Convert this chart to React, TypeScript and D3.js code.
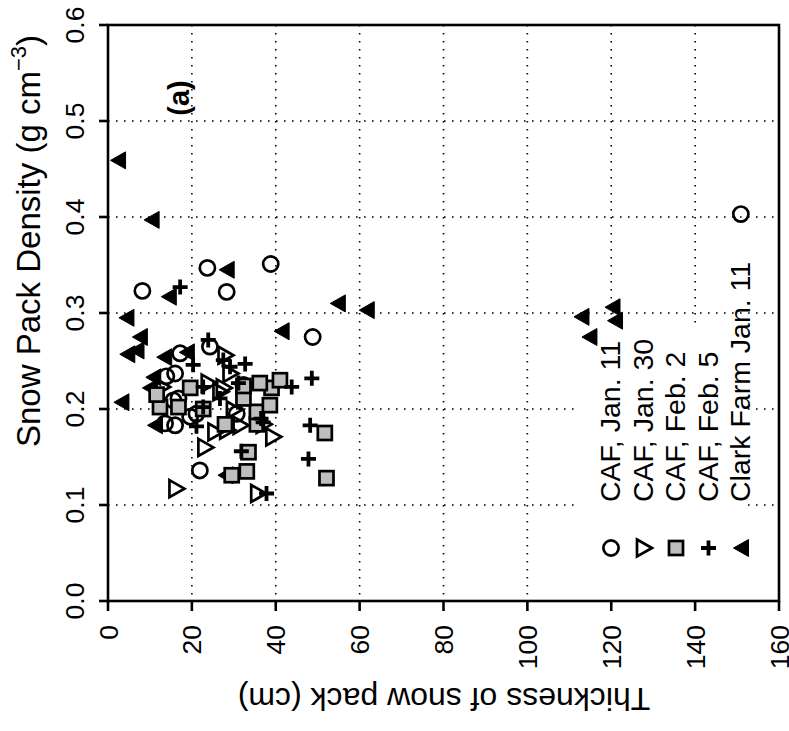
import React from "react";
import * as d3 from "d3";

// thickness (cm), density (g cm^-3)
const cafJan11: [number, number][] = [
  [8.2, 0.323], [23.7, 0.347], [28.3, 0.322], [38.8, 0.351], [48.8, 0.275],
  [150.9, 0.403], [17.2, 0.258], [16, 0.237], [13.9, 0.234], [13.6, 0.185],
  [16, 0.183], [21.9, 0.136], [24.3, 0.265], [21.1, 0.195], [16.8, 0.211],
  [32.3, 0.225], [30.7, 0.195], [19.6, 0.192], [15.6, 0.209],
];
const cafJan30: [number, number][] = [
  [16.2, 0.117], [35.7, 0.112], [39.3, 0.171], [23.1, 0.16], [23.9, 0.227],
  [27.9, 0.256], [29.1, 0.237], [28.3, 0.178], [25.5, 0.176], [31.5, 0.183],
  [12.8, 0.223], [26.7, 0.218], [29.9, 0.199], [37, 0.184], [27.5, 0.222],
];
const cafFeb2: [number, number][] = [
  [51.7, 0.175], [52.1, 0.128], [33.5, 0.155], [33.1, 0.135], [29.5, 0.131],
  [27.9, 0.184], [35.5, 0.184], [35.5, 0.197], [38.6, 0.204], [39, 0.222],
  [41, 0.23], [36.2, 0.227], [32.3, 0.211], [32.3, 0.224], [22.7, 0.2],
  [19.6, 0.222], [16.8, 0.202], [12.4, 0.202], [11.6, 0.215],
];
const cafFeb5: [number, number][] = [
  [17.2, 0.327], [48.6, 0.232], [47.8, 0.148], [48.2, 0.183], [37.8, 0.112],
  [31.8, 0.156], [32.7, 0.247], [43.8, 0.223], [23.9, 0.272], [20.3, 0.246],
  [29.1, 0.244], [27.5, 0.251], [26.7, 0.211], [21.1, 0.182], [22.7, 0.202],
  [37, 0.186], [22.7, 0.223], [31.1, 0.227], [36.5, 0.19],
];
const clarkJan11: [number, number][] = [
  [2.4, 0.459], [10.4, 0.397], [28.3, 0.345], [14.5, 0.317], [4.4, 0.295],
  [7.6, 0.275], [54.8, 0.31], [61.7, 0.303], [41.4, 0.281], [4.6, 0.257],
  [6.8, 0.261], [13.4, 0.254], [18.8, 0.259], [10.8, 0.233], [10, 0.222],
  [3.2, 0.207], [11.2, 0.183], [28, 0.131], [112.9, 0.296], [114.8, 0.275],
  [120.3, 0.306], [120.9, 0.292],
];

const legendLabels = ["CAF, Jan. 11", "CAF, Jan. 30", "CAF, Feb. 2", "CAF, Feb. 5", "Clark Farm Jan. 11"];
const xTicks = [0, 20, 40, 60, 80, 100, 120, 140, 160];
const yTicks = [0, 0.1, 0.2, 0.3, 0.4, 0.5, 0.6];

const FONT = "'Liberation Sans', Arial, Helvetica, sans-serif";

const left = 108, right = 779, top = 25, bottom = 601;
const x = d3.scaleLinear().domain([0, 160]).range([left, right]);
const y = d3.scaleLinear().domain([0, 0.6]).range([bottom, top]);

type Kind = "circle" | "triR" | "square" | "plus" | "triL";

function Marker({ kind, cx, cy }: { kind: Kind; cx: number; cy: number }) {
  if (kind === "circle")
    return <circle cx={cx} cy={cy} r={7.6} fill="none" stroke="#000" strokeWidth={2.7} />;
  if (kind === "triR") {
    const p = d3.path();
    p.moveTo(cx - 6.5, cy - 8.5); p.lineTo(cx + 8.5, cy); p.lineTo(cx - 6.5, cy + 8.5); p.closePath();
    return <path d={p.toString()} fill="none" stroke="#000" strokeWidth={2.7} />;
  }
  if (kind === "square")
    return <rect x={cx - 7} y={cy - 7} width={14} height={14} fill="#bebebe" stroke="#000" strokeWidth={2.7} />;
  if (kind === "plus")
    return (
      <path d={`M${cx - 7.5},${cy}H${cx + 7.5}M${cx},${cy - 7.5}V${cy + 7.5}`} stroke="#000" strokeWidth={3.8} fill="none" />
    );
  const p = d3.path();
  p.moveTo(cx + 7.5, cy - 8.5); p.lineTo(cx - 7.5, cy); p.lineTo(cx + 7.5, cy + 8.5); p.closePath();
  return <path d={p.toString()} fill="#000" stroke="#000" strokeWidth={1} />;
}

const series: { data: [number, number][]; kind: Kind }[] = [
  { data: clarkJan11, kind: "triL" },
  { data: cafJan11, kind: "circle" },
  { data: cafJan30, kind: "triR" },
  { data: cafFeb2, kind: "square" },
  { data: cafFeb5, kind: "plus" },
];
const legendKinds: Kind[] = ["circle", "triR", "square", "plus", "triL"];

export default function App() {
  const gridX = xTicks.filter((t) => t > 0 && t < 160);
  const gridY = yTicks.filter((t) => t > 0 && t < 0.6);
  return (
    <svg width={789} height={731} style={{ position: "absolute", left: 0, top: 0, background: "#fff" }} fontFamily={FONT}>
      <rect width={789} height={731} fill="#fff" />
      {/* dotted grid */}
      {gridX.map((t) => (
        <line key={"gx" + t} x1={x(t)} x2={x(t)} y1={top} y2={bottom} stroke="#000" strokeWidth={1.6} strokeDasharray="1.6,6.4" />
      ))}
      {gridY.map((t) => (
        <line key={"gy" + t} x1={left} x2={right} y1={y(t)} y2={y(t)} stroke="#000" strokeWidth={1.6} strokeDasharray="1.6,6.4" />
      ))}
      {/* legend background */}
      <rect x={575} y={327} width={173} height={bottom - 327} fill="#fff" />
      {legendLabels.map((lab, i) => {
        const bx = 620 + i * 32.5;
        return (
          <g key={lab}>
            <Marker kind={legendKinds[i]} cx={bx - 9} cy={548} />
            <text transform={`translate(${bx},502) rotate(-90)`} fontSize={28.5} fill="#000">{lab}</text>
          </g>
        );
      })}
      {/* frame */}
      <rect x={left} y={top} width={right - left} height={bottom - top} fill="none" stroke="#000" strokeWidth={2.6} />
      {/* points */}
      {series.map((s) =>
        s.data.map((d, i) => <Marker key={s.kind + i} kind={s.kind} cx={x(d[0])} cy={y(d[1])} />)
      )}
      {/* x axis */}
      {xTicks.map((t) => (
        <g key={"xt" + t}>
          <line x1={x(t)} x2={x(t)} y1={bottom} y2={bottom + 10} stroke="#000" strokeWidth={2.6} />
          <text transform={`translate(${x(t) + 9.5},625) rotate(-90)`} textAnchor="end" fontSize={26.5} fill="#000">{t}</text>
        </g>
      ))}
      {/* y axis */}
      {yTicks.map((t) => (
        <g key={"yt" + t}>
          <line x1={left - 9} x2={left} y1={y(t)} y2={y(t)} stroke="#000" strokeWidth={2.6} />
          <text transform={`translate(84,${y(t)}) rotate(-90)`} textAnchor="middle" fontSize={26.5} fill="#000">{d3.format(".1f")(t)}</text>
        </g>
      ))}
      <text transform="translate(40,447) rotate(-90)" fontSize={33} fill="#000">
        Snow Pack Density (g cm<tspan fontSize={22} dy={-14}>−3</tspan><tspan dy={14}>)</tspan>
      </text>
      <text transform="translate(444,688) rotate(180)" textAnchor="middle" fontSize={32} fill="#000">
        Thickness of snow pack (cm)
      </text>
      <text transform="translate(189,98) rotate(-90)" textAnchor="middle" fontSize={29} fontWeight="bold" fill="#000">(a)</text>
    </svg>
  );
}
